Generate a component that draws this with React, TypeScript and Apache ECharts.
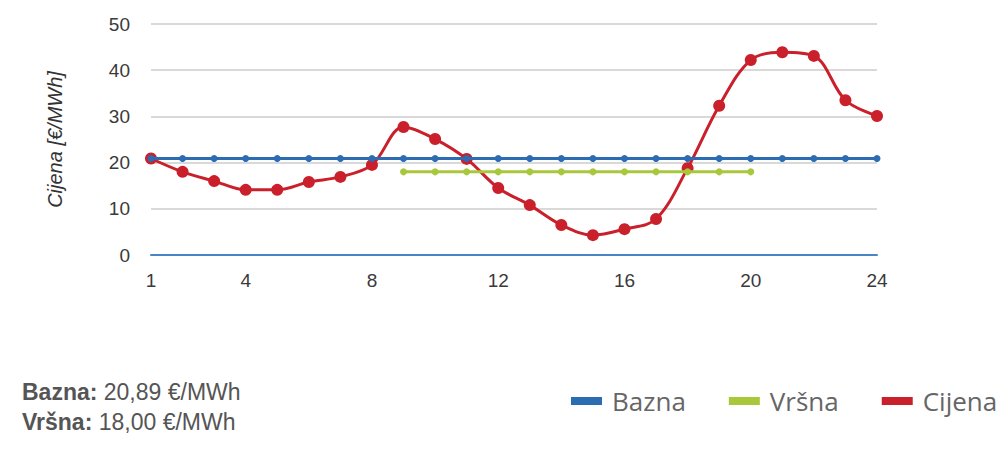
import React, { useEffect, useRef } from "react";
import * as echarts from "echarts";

const hours = ["1","2","3","4","5","6","7","8","9","10","11","12","13","14","15","16","17","18","19","20","21","22","23","24"];
const shownLabels = ["1", "4", "8", "12", "16", "20", "24"];
const cijena = [20.89, 18.0, 16.0, 14.1, 14.1, 15.8, 16.9, 19.5, 27.7, 25.1, 20.8, 14.5, 10.8, 6.5, 4.3, 5.6, 7.8, 18.8, 32.3, 42.2, 43.9, 43.1, 33.5, 30.1];
const bazna = [20.89, 20.89, 20.89, 20.89, 20.89, 20.89, 20.89, 20.89, 20.89, 20.89, 20.89, 20.89, 20.89, 20.89, 20.89, 20.89, 20.89, 20.89, 20.89, 20.89, 20.89, 20.89, 20.89, 20.89];
const vrsna = [null, null, null, null, null, null, null, null, 18, 18, 18, 18, 18, 18, 18, 18, 18, 18, 18, 18, null, null, null, null];
const summary = [
  { label: "Bazna:", value: "20,89 €/MWh" },
  { label: "Vršna:", value: "18,00 €/MWh" },
];

const BLUE = "#2b6cb3";
const GREEN = "#a9c73b";
const RED = "#c9202b";

export default function App() {
  const ref = useRef<HTMLDivElement>(null);
  useEffect(() => {
    if (!ref.current) return;
    const chart = echarts.init(ref.current, null, { renderer: "svg" });
    chart.setOption({
      animation: false,
      backgroundColor: "#ffffff",
      grid: { left: 151, right: 127, top: 24, bottom: 209, containLabel: false },
      xAxis: {
        type: "category",
        data: hours,
        boundaryGap: false,
        axisTick: { show: false },
        axisLine: { show: true, lineStyle: { color: "#4a86c5", width: 2 } },
        splitLine: { show: false },
        axisLabel: {
          interval: (index: number, value: string) => shownLabels.includes(value),
          color: "#3a3a3a",
          fontSize: 19,
          fontFamily: "Liberation Sans, Arial, sans-serif",
          margin: 16,
        },
      },
      yAxis: {
        type: "value",
        min: 0,
        max: 50,
        interval: 10,
        name: "Cijena [€/MWh]",
        nameLocation: "middle",
        nameRotate: 90,
        nameGap: 86,
        nameTextStyle: {
          fontStyle: "italic",
          fontSize: 20,
          color: "#333",
          fontFamily: "Liberation Sans, Arial, sans-serif",
        },
        axisLine: { show: false },
        axisTick: { show: false },
        splitLine: { lineStyle: { color: "#d9d9d9", width: 2 } },
        axisLabel: {
          color: "#3a3a3a",
          fontSize: 19,
          fontFamily: "Liberation Sans, Arial, sans-serif",
          margin: 21,
        },
      },
      legend: {
        left: 566,
        top: 383,
        icon: "rect",
        itemWidth: 31,
        itemHeight: 8,
        itemGap: 43,
        textStyle: {
          fontSize: 26,
          color: "#666",
          fontFamily: "Open Sans, sans-serif",
          padding: [0, 0, 0, 5],
        },
        data: ["Bazna", "Vršna", "Cijena"],
      },
      series: [
        {
          name: "Bazna",
          type: "line",
          data: bazna,
          z: 4,
          color: BLUE,
          symbol: "circle",
          symbolSize: 7,
          lineStyle: { width: 3, color: BLUE },
          itemStyle: { color: BLUE },
        },
        {
          name: "Vršna",
          type: "line",
          data: vrsna,
          z: 3,
          color: GREEN,
          symbol: "circle",
          symbolSize: 7,
          lineStyle: { width: 3, color: GREEN },
          itemStyle: { color: GREEN },
        },
        {
          name: "Cijena",
          type: "line",
          data: cijena,
          z: 2,
          color: RED,
          smooth: 0.35,
          symbol: "circle",
          symbolSize: 12,
          lineStyle: { width: 3, color: RED },
          itemStyle: { color: RED },
        },
      ],
      graphic: summary.map((s, i) => ({
        type: "text",
        left: 22,
        top: 380 + i * 30,
        style: {
          text: `{b|${s.label}} ${s.value}`,
          fontSize: 23,
          fill: "#555",
          fontFamily: "Liberation Sans, Arial, sans-serif",
          rich: {
            b: {
              fontSize: 23,
              fontWeight: "bold",
              fill: "#555",
              fontFamily: "Liberation Sans, Arial, sans-serif",
            },
          },
        },
      })),
    });
    return () => chart.dispose();
  }, []);
  return (
    <div
      ref={ref}
      style={{ position: "fixed", left: 0, top: 0, width: 1004, height: 464 }}
    />
  );
}
